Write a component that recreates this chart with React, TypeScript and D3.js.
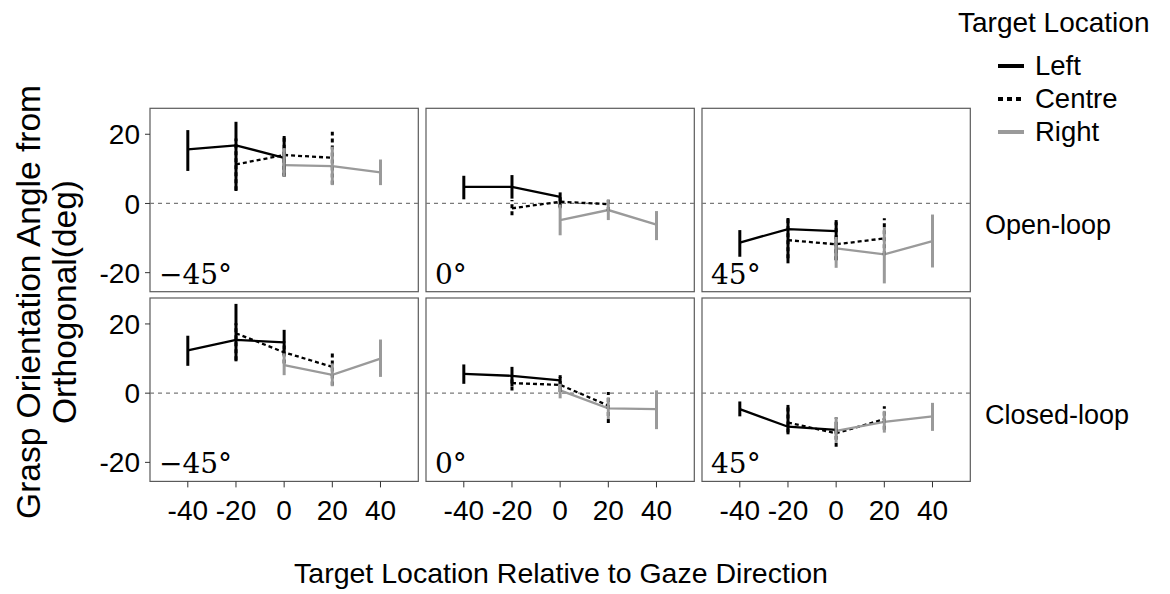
import React from "react";
import * as d3 from "d3";

// ---- Data ----
const xTicks = [-40, -20, 0, 20, 40];
const yTicks = [-20, 0, 20];
const gazeLabels = ["−45°", "0°", "45°"];
const feedbackLabels = ["Open-loop", "Closed-loop"];
const seriesNames = ["Left", "Centre", "Right"];
const leftX = [-40, -20, 0];
const centreX = [-20, 0, 20];
const rightX = [0, 20, 40];

// Open-loop (one row per gaze panel: -45, 0, 45)
const openLeftMean = [[15.6, 16.8, 13.2], [4.8, 4.8, 1.9], [-11.3, -7.4, -8.0]];
const openLeftLo = [[9.4, 3.6, 8.0], [1.2, 1.4, -1.0], [-15.4, -17.3, -16.4]];
const openLeftHi = [[21.2, 23.6, 19.5], [8.0, 8.2, 3.2], [-7.7, -4.2, -4.8]];
const openCentreMean = [[11.3, 14.0, 13.2], [-1.4, 0.5, -0.2], [-10.6, -11.8, -10.1]];
const openCentreLo = [[3.8, 7.7, 5.5], [-3.4, -1.4, -2.2], [-15.8, -16.4, -15.0]];
const openCentreHi = [[18.8, 19.5, 20.7], [1.0, 2.4, 1.6], [-4.3, -5.4, -4.3]];
const openRightMean = [[11.1, 10.8, 9.0], [-4.8, -1.9, -6.1], [-13.0, -14.7, -10.9]];
const openRightLo = [[7.7, 5.3, 5.3], [-9.2, -4.8, -10.6], [-18.6, -23.1, -18.5]];
const openRightHi = [[16.0, 16.4, 12.7], [-0.3, 1.2, -2.2], [-9.7, -6.8, -3.2]];

// Closed-loop
const closedLeftMean = [[12.4, 15.4, 14.7], [5.6, 5.0, 3.7], [-4.6, -9.7, -10.6]];
const closedLeftLo = [[7.9, 9.2, 11.0], [2.7, 2.0, 1.5], [-6.7, -11.9, -11.9]];
const closedLeftHi = [[16.6, 25.8, 18.3], [8.3, 7.6, 5.2], [-2.4, -3.4, -9.4]];
const closedCentreMean = [[17.3, 11.8, 7.6], [2.9, 2.4, -3.6], [-8.5, -11.6, -7.5]];
const closedCentreLo = [[9.5, 8.6, 2.2], [0.8, 0.3, -8.6], [-11.4, -15.5, -10.6]];
const closedCentreHi = [[20.2, 14.9, 12.1], [5.0, 4.7, 0.3], [-3.6, -7.0, -3.8]];
const closedRightMean = [[8.1, 5.3, 10.0], [0.8, -4.4, -4.6], [-10.9, -8.3, -6.7]];
const closedRightLo = [[5.2, 2.0, 4.7], [-1.5, -7.5, -10.4], [-14.3, -11.4, -10.9]];
const closedRightHi = [[11.5, 8.6, 15.5], [2.7, -1.2, 0.8], [-7.0, -5.1, -2.8]];

// ---- Assembly ----
type Pt = { x: number; m: number; lo: number; hi: number };
const seriesX = [leftX, centreX, rightX];
const rowData = [
  [[openLeftMean, openLeftLo, openLeftHi], [openCentreMean, openCentreLo, openCentreHi], [openRightMean, openRightLo, openRightHi]],
  [[closedLeftMean, closedLeftLo, closedLeftHi], [closedCentreMean, closedCentreLo, closedCentreHi], [closedRightMean, closedRightLo, closedRightHi]],
];
function panelSeries(row: number, col: number): Pt[][] {
  return rowData[row].map((s, si) =>
    seriesX[si].map((x, i) => ({ x, m: s[0][col][i], lo: s[1][col][i], hi: s[2][col][i] }))
  );
}

const seriesStyle = [
  { color: "#000000", dash: undefined as string | undefined },
  { color: "#000000", dash: "4,3" },
  { color: "#9a9a9a", dash: undefined as string | undefined },
];

const colLeft = [150, 426, 702];
const rowTop = [108.3, 298];
const panelW = 268.3;
const panelH = 183.4;
const sans = "'Liberation Sans', Arial, sans-serif";
const serif = "'DejaVu Serif', 'Liberation Serif', serif";

export default function App() {
  const x = d3.scaleLinear().domain([-55.7, 55.7]).range([0, panelW]);
  const y = d3.scaleLinear().domain([-25.5, 27.5]).range([panelH, 0]);
  const line = d3
    .line<Pt>()
    .x((d) => x(d.x))
    .y((d) => y(d.m));

  return (
    <svg width={1170} height={594} style={{ position: "absolute", left: 0, top: 0, background: "#fff" }}>
      {rowTop.map((ty, r) =>
        colLeft.map((lx, c) => {
          const ser = panelSeries(r, c);
          return (
            <g key={`p${r}${c}`} transform={`translate(${lx},${ty})`}>
              <rect x={0} y={0} width={panelW} height={panelH} fill="#fff" stroke="#5a5a5a" strokeWidth={1.2} />
              <line x1={0} x2={panelW} y1={y(0)} y2={y(0)} stroke="#7a7a7a" strokeWidth={1.3} strokeDasharray="4,4" />
              {ser.map((pts, si) => (
                <path
                  key={`l${si}`}
                  d={line(pts) || ""}
                  fill="none"
                  stroke={seriesStyle[si].color}
                  strokeWidth={2.3}
                  strokeDasharray={seriesStyle[si].dash}
                />
              ))}
              {ser.map((pts, si) =>
                pts.map((p, i) => (
                  <line
                    key={`e${si}${i}`}
                    x1={x(p.x)}
                    x2={x(p.x)}
                    y1={y(p.lo)}
                    y2={y(p.hi)}
                    stroke={seriesStyle[si].color}
                    strokeWidth={3}
                    strokeDasharray={seriesStyle[si].dash}
                  />
                ))
              )}
              <text x={9} y={panelH - 8} fontFamily={serif} fontSize={28} fill="#000">
                {gazeLabels[c]}
              </text>
              {c === 0 &&
                yTicks.map((t) => (
                  <g key={`yt${t}`}>
                    <line x1={-5} x2={0} y1={y(t)} y2={y(t)} stroke="#333" strokeWidth={1} />
                    <text x={-10} y={y(t)} dy="0.36em" textAnchor="end" fontFamily={sans} fontSize={28} fill="#000">
                      {t}
                    </text>
                  </g>
                ))}
              {r === 1 &&
                xTicks.map((t) => (
                  <g key={`xt${t}`}>
                    <line x1={x(t)} x2={x(t)} y1={panelH} y2={panelH + 6} stroke="#333" strokeWidth={1} />
                    <text x={x(t)} y={panelH + 39} textAnchor="middle" fontFamily={sans} fontSize={28} fill="#000">
                      {t}
                    </text>
                  </g>
                ))}
            </g>
          );
        })
      )}
      {feedbackLabels.map((f, r) => (
        <text key={f} x={985} y={rowTop[r] + 126} fontFamily={sans} fontSize={27} fill="#000">
          {f}
        </text>
      ))}
      <text x={561} y={583} textAnchor="middle" fontFamily={sans} fontSize={28.5} fill="#000">
        Target Location Relative to Gaze Direction
      </text>
      <g transform="translate(40,302) rotate(-90)">
        <text x={0} y={0} textAnchor="middle" fontFamily={sans} fontSize={33.5} fill="#000">
          Grasp Orientation Angle from
        </text>
        <text x={0} y={36} textAnchor="middle" fontFamily={sans} fontSize={33.5} fill="#000">
          Orthogonal(deg)
        </text>
      </g>
      <text x={958} y={32} fontFamily={sans} fontSize={28} fill="#000">
        Target Location
      </text>
      {seriesNames.map((s, i) => (
        <g key={s}>
          <line
            x1={998}
            x2={1024}
            y1={66 + i * 33}
            y2={66 + i * 33}
            stroke={seriesStyle[i].color}
            strokeWidth={4}
            strokeDasharray={i === 1 ? "5,4" : undefined}
          />
          <text x={1035} y={75 + i * 33} fontFamily={sans} fontSize={27.5} fill="#000">
            {s}
          </text>
        </g>
      ))}
    </svg>
  );
}
